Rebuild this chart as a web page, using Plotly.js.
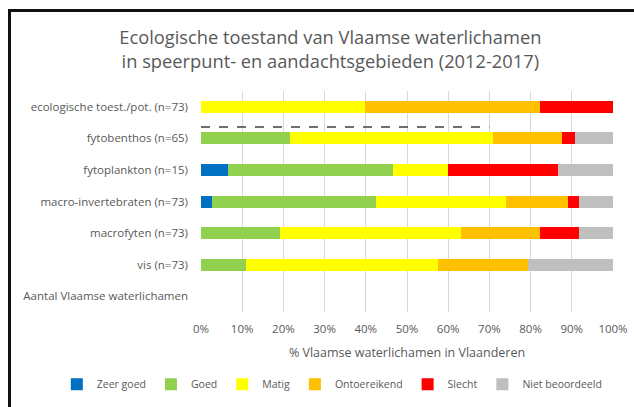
<!DOCTYPE html>
<html>
<head>
<meta charset="utf-8">
<script src="https://cdn.plot.ly/plotly-3.0.1.min.js"></script>
<style>
  html, body { margin: 0; padding: 0; background: #fff; overflow: hidden; }
  #frame { position: absolute; left: 8px; top: 9px; width: 700px; height: 500px; border: 3px solid #111; box-sizing: border-box; pointer-events: none; }
  #chart { position: absolute; left: 0; top: 0; width: 634px; height: 407px; }
</style>
</head>
<body>
<div id="chart"></div>
<div id="frame"></div>
<script>
// Categories (top to bottom)
const categories = [
  "ecologische toest./pot. (n=73)",
  "fytobenthos (n=65)",
  "fytoplankton (n=15)",
  "macro-invertebraten (n=73)",
  "macrofyten (n=73)",
  "vis (n=73)",
  "Aantal Vlaamse waterlichamen"
];
// Sample sizes
const totals = [73, 65, 15, 73, 73, 73, 0];
// Counts per class
const zeerGoed      = [0, 0, 1, 2, 0, 0, 0];
const goed          = [0, 14, 6, 29, 14, 8, 0];
const matig         = [29, 32, 2, 23, 32, 34, 0];
const ontoereikend  = [31, 11, 0, 11, 14, 16, 0];
const slecht        = [13, 2, 4, 2, 7, 0, 0];
const nietBeoordeeld= [0, 6, 2, 6, 6, 15, 0];

const seriesNames = ["Zeer goed", "Goed", "Matig", "Ontoereikend", "Slecht", "Niet beoordeeld"];
const seriesColors = ["#0070c0", "#92d050", "#ffff00", "#ffc000", "#ff0000", "#bfbfbf"];
const seriesData = [zeerGoed, goed, matig, ontoereikend, slecht, nietBeoordeeld];

// Dashed reference line (% range) and its position between rows 0 and 1
const refLineX = [0, 70];
const refLineRow = 0.64;

const xTickVals = [0, 10, 20, 30, 40, 50, 60, 70, 80, 90, 100];
const xTickText = ["0%", "10%", "20%", "30%", "40%", "50%", "60%", "70%", "80%", "90%", "100%"];

const pct = arr => arr.map((v, i) => totals[i] ? v / totals[i] * 100 : 0);

const traces = seriesData.map((d, k) => ({
  type: "bar",
  orientation: "h",
  name: seriesNames[k],
  y: categories,
  x: pct(d),
  marker: { color: seriesColors[k], line: { width: 0 } },
  hoverinfo: "name+x"
}));

const font = "Open Sans, Noto Sans, sans-serif";
const layout = {
  width: 634, height: 407,
  margin: { l: 201, r: 21, t: 91, b: 95, autoexpand: false },
  paper_bgcolor: "#fff", plot_bgcolor: "#fff",
  barmode: "stack",
  bargap: 0.62,
  showlegend: true,
  font: { family: font, color: "#595959", size: 11 },
  title: {
    text: "Ecologische toestand van Vlaamse waterlichamen<br>in speerpunt- en aandachtsgebieden (2012-2017)",
    font: { family: font, size: 18.3, color: "#595959" },
    x: 0.521, xanchor: "center", xref: "container",
    y: 0.892, yanchor: "middle", yref: "container"
  },
  xaxis: {
    range: [0, 100],
    tickvals: xTickVals, ticktext: xTickText,
    showgrid: true, gridcolor: "#d9d9d9", gridwidth: 1,
    zeroline: false, showline: false,
    ticks: "", ticklabelstandoff: 8,
    tickfont: { size: 11.5, color: "#595959" },
    title: { text: "% Vlaamse waterlichamen in Vlaanderen", font: { size: 12.5, color: "#595959" }, standoff: 13 },
    fixedrange: true
  },
  yaxis: {
    type: "category",
    autorange: "reversed",
    showgrid: false, zeroline: false, showline: false,
    ticks: "", ticklabelstandoff: 12,
    tickfont: { size: 11.5, color: "#595959" },
    fixedrange: true
  },
  legend: {
    orientation: "h",
    xref: "paper", yref: "paper",
    x: -0.35, xanchor: "left",
    y: -0.327, yanchor: "middle",
    font: { size: 10.5, color: "#595959" },
    itemwidth: 30,
    traceorder: "normal"
  },
  shapes: [{
    type: "line", xref: "x", yref: "y",
    x0: refLineX[0], x1: refLineX[1], y0: refLineRow, y1: refLineRow,
    line: { color: "#404040", width: 1.5, dash: "dash" }
  }]
};

Plotly.newPlot("chart", traces, layout, { displayModeBar: false, staticPlot: true });
</script>
</body>
</html>
